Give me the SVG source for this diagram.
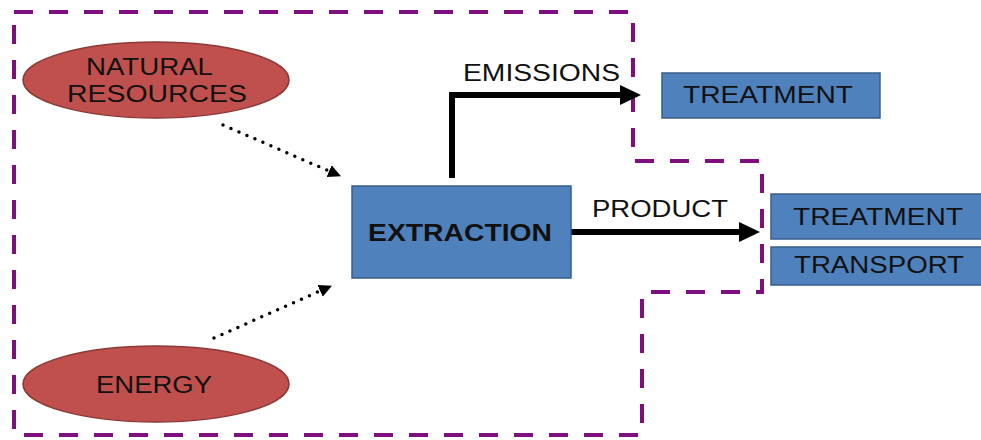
<svg xmlns="http://www.w3.org/2000/svg" width="981" height="440" viewBox="0 0 981 440">
<style>
.bg{fill:#ffffff}
.boundary{fill:none;stroke:#7f0f7f;stroke-width:4;stroke-dasharray:19 16}
.ell{fill:#c0504d;stroke:#8c3836;stroke-width:1.5}
.box{fill:#4f81bd;stroke:#385d8a;stroke-width:1.5}
.t{font-family:"Liberation Sans",Arial,sans-serif;font-size:23px;fill:#111111}
.b{font-weight:bold}
.flow{fill:none;stroke:#000000;stroke-width:6}
.dot{fill:none;stroke:#000000;stroke-width:3.5;stroke-linecap:round;stroke-dasharray:0 8.7}
</style>
<defs>
<marker id="bigArrow" markerUnits="userSpaceOnUse" markerWidth="22" markerHeight="22" refX="1" refY="10" orient="auto" viewBox="0 0 22 22">
<path d="M0,0 L21,10 L0,20 Z" fill="#000000"/>
</marker>
<marker id="smallArrow" markerUnits="userSpaceOnUse" markerWidth="14" markerHeight="14" refX="1" refY="6.5" orient="auto" viewBox="0 0 14 14">
<path d="M0,0 L13,6.5 L0,13 Z" fill="#000000"/>
</marker>
</defs>
<rect class="bg" x="0" y="0" width="981" height="440"/>
<path id="boundary" class="boundary" d="M14,12 H633 V161 H762 V292 H642 V435 H14 Z"/>
<g id="connectors">
<path class="dot" d="M223,125 L330,171.5" marker-end="url(#smallArrow)"/>
<path class="dot" d="M214,338 L321,290.5" marker-end="url(#smallArrow)"/>
<path class="flow" d="M452,178 V95 H621" marker-end="url(#bigArrow)"/>
<path class="flow" d="M571,232 H740" stroke-width="5" marker-end="url(#bigArrow)"/>
<text class="t" x="463" y="81" textLength="157" lengthAdjust="spacingAndGlyphs">EMISSIONS</text>
<text class="t" x="592" y="217" textLength="136" lengthAdjust="spacingAndGlyphs">PRODUCT</text>
</g>
<g id="natural-resources">
<ellipse class="ell" cx="156" cy="80" rx="133" ry="38"/>
<text class="t" x="86" y="75" textLength="127" lengthAdjust="spacingAndGlyphs">NATURAL</text>
<text class="t" x="67" y="102" textLength="180" lengthAdjust="spacingAndGlyphs">RESOURCES</text>
</g>
<g id="energy">
<ellipse class="ell" cx="156" cy="384" rx="133" ry="38"/>
<text class="t" x="96" y="393" textLength="116" lengthAdjust="spacingAndGlyphs">ENERGY</text>
</g>
<g id="extraction">
<rect class="box" x="352" y="186" width="219" height="92"/>
<text class="t b" x="368" y="241" textLength="184" lengthAdjust="spacingAndGlyphs">EXTRACTION</text>
</g>
<g id="treatment-emissions">
<rect class="box" x="662" y="73" width="218" height="45"/>
<text class="t" x="683" y="103" textLength="170" lengthAdjust="spacingAndGlyphs">TREATMENT</text>
</g>
<g id="treatment-product">
<rect class="box" x="771" y="194" width="212" height="45"/>
<text class="t" x="793" y="225" textLength="170" lengthAdjust="spacingAndGlyphs">TREATMENT</text>
</g>
<g id="transport">
<rect class="box" x="771" y="247" width="212" height="38"/>
<text class="t" x="794" y="273" textLength="170" lengthAdjust="spacingAndGlyphs">TRANSPORT</text>
</g>
</svg>
